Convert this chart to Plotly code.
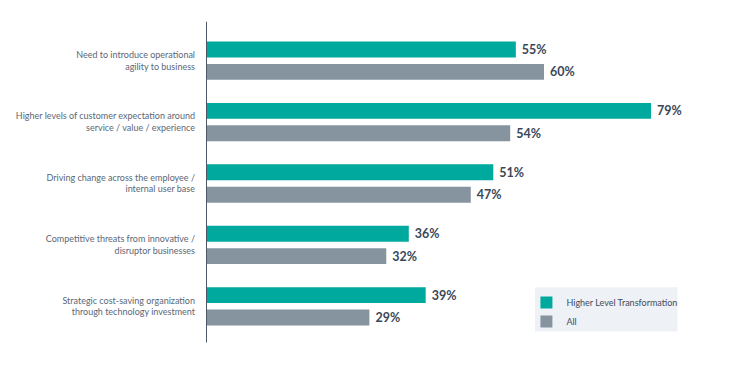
import plotly.graph_objects as go

categories = [
    "Need to introduce operational<br>agility to business",
    "Higher levels of customer expectation around<br>service / value / experience",
    "Driving change across the employee /<br>internal user base",
    "Competitive threats from innovative /<br>disruptor businesses",
    "Strategic cost-saving organization<br>through technology investment",
]
higher_level = [55, 79, 51, 36, 39]
all_values = [60, 54, 47, 32, 29]
series_names = ["Higher Level Transformation", "All"]

TEAL = "#00a99d"
GRAY = "#8694a0"
LABEL = "#3b4758"

fig = go.Figure()
for name, vals, col in [(series_names[0], higher_level, TEAL), (series_names[1], all_values, GRAY)]:
    fig.add_trace(go.Bar(
        y=categories, x=vals, name=name, orientation="h",
        marker=dict(color=col, line=dict(width=0)),
        text=[f" {v}%" for v in vals], textposition="outside",
        textfont=dict(size=12.5, color=LABEL, family="Lato", weight="bold"),
        constraintext="none", cliponaxis=False,
    ))

fig.update_layout(
    width=750, height=365,
    margin=dict(l=206, r=37, t=30, b=28),
    paper_bgcolor="white", plot_bgcolor="white",
    barmode="group", bargap=0.27, bargroupgap=0.29,
    font=dict(family="Lato", size=9, color="#5b6777"),
    xaxis=dict(range=[0, 90], visible=False),
    yaxis=dict(autorange="reversed", showline=False, ticks="", showgrid=False, automargin=False,
               ticklabelstandoff=10, tickfont=dict(size=9, color="#5b6777")),
    legend=dict(x=0.632, y=0.16, xanchor="left", yanchor="top",
                bgcolor="rgba(0,0,0,0)", font=dict(size=9, color="#3f4b5b"),
                itemwidth=30, tracegroupgap=0, traceorder="normal"),
    shapes=[
        dict(type="rect", xref="paper", yref="paper", x0=0.649, x1=0.93, y0=0.018, y1=0.162,
             fillcolor="#eef2f6", line=dict(width=0), layer="below"),
        dict(type="line", xref="x", yref="paper", x0=0, x1=0, y0=-0.018, y1=1.027,
             line=dict(color="#4d5866", width=2)),
    ],
)

fig.write_html("out.html", config={"displayModeBar": False},
               post_script="document.body.style.margin='0';")
